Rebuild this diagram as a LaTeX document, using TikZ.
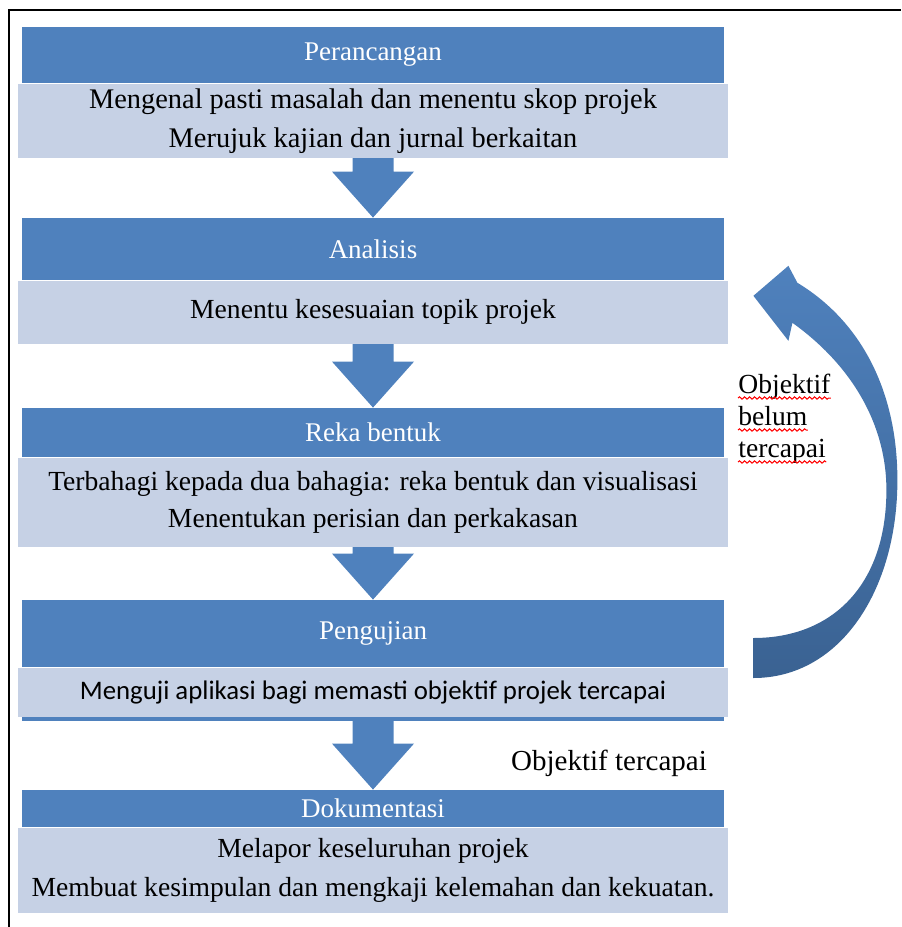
\documentclass[tikz,border=0pt]{standalone}
\usepackage{fontspec}
\setmainfont{Liberation Serif}
\newfontfamily\calibri{Carlito}
\usepackage{tikz}
\usetikzlibrary{positioning,calc,decorations.pathmorphing}
\definecolor{stageBlue}{HTML}{4F81BD}
\definecolor{stageLight}{HTML}{C6D1E5}
\definecolor{loopDark}{HTML}{3A6292}

\begin{document}
\begin{tikzpicture}[
  x=0.5pt,
  y=-0.5pt,
  stage head/.style={
    fill=stageBlue,
    text=white,
    minimum width=351pt,
    inner sep=0pt,
    font=\fontsize{13.5}{16}\selectfont,
  },
  stage body/.style={
    fill=stageLight,
    minimum width=355pt,
    inner sep=0pt,
    align=center,
    font=\fontsize{13.8}{19.5}\selectfont,
  },
  flow arrow/.style={
    fill=stageBlue,
  },
  side note/.style={
    inner sep=0pt,
    font=\fontsize{13.8}{15.5}\selectfont,
  },
  spell mark/.style={
    draw=red,
    line width=0.5pt,
    decorate,
    decoration={snake,amplitude=0.6pt,segment length=2.5pt},
  },
]
\useasboundingbox (0,0) rectangle (901,927);
\draw[line width=1pt] (9,927) -- (9,10) -- (901,10);

\node[stage head,minimum height=28pt] (h1) at (373,55) {Perancangan};
\node[stage body,minimum height=37pt,below=0pt of h1,font=\fontsize{14.2}{19.5}\selectfont] (b1)
  {Mengenal pasti masalah dan menentu skop projek\\Merujuk kajian dan jurnal berkaitan};

\node[stage head,minimum height=31pt] (h2) at (373,249) {Analisis};
\node[stage body,minimum height=31.5pt,below=0pt of h2] (b2)
  {Menentu kesesuaian topik projek};

\node[stage head,minimum height=24.5pt] (h3) at (373,432.5) {Reka bentuk};
\node[stage body,minimum height=44.5pt,below=0pt of h3,font=\fontsize{13.8}{18.5}\selectfont] (b3)
  {Terbahagi kepada dua bahagia: reka bentuk dan visualisasi\\Menentukan perisian dan perkakasan};

\node[stage head,minimum height=33.5pt] (h4) at (373,633.5) {Pengujian};
\node[stage body,minimum height=24.5pt,below=0pt of h4,font=\calibri\fontsize{13.4}{16}\selectfont] (b4)
  {Menguji aplikasi bagi memasti objektif projek tercapai};
\fill[stageBlue] ($(b4.south west)+(4,0)$) rectangle ($(b4.south east)+(-4,4)$);

\node[stage head,minimum height=18.5pt] (h5) at (373,808.5) {Dokumentasi};
\node[stage body,minimum height=42.5pt,below=0pt of h5] (b5)
  {Melapor keseluruhan projek\\Membuat kesimpulan dan mengkaji kelemahan dan kekuatan.};

\foreach \from/\to in {b1/h2,b2/h3,b3/h4,b4/h5}
  \fill[flow arrow] let \p1=(\from.south), \p2=(\to.north) in
    (\x1-10.25pt,\y1) -- (\x1+10.25pt,\y1) -- (\x1+10.25pt,\y2+23pt)
    -- (\x1+20.5pt,\y2+23pt) -- (\x1,\y2) -- (\x1-20.5pt,\y2+23pt)
    -- (\x1-10.25pt,\y2+23pt) -- cycle;

\node[font=\fontsize{14.5}{17}\selectfont] (reached) at (609,763) {Objektif tercapai};

\coordinate (back) at ($(h4.east)+(29,24.5)$);
\coordinate (tip) at ($(b2.east)+(25,-16.5)$);
\shade[top color=stageBlue,middle color=stageBlue,bottom color=loopDark]
  ($(back)+(0,20)$)
  .. controls ($(back)+(87,20)$) and ($(back)+(144,-68)$) .. ($(back)+(144,-178)$)
  .. controls ($(back)+(144,-268)$) and ($(tip)+(107,25)$) .. ($(tip)+(44,-13)$)
  -- ($(tip)+(35,-30)$) -- (tip) -- ($(tip)+(35,45)$) -- ($(tip)+(39,27)$)
  .. controls ($(tip)+(99,70)$) and ($(back)+(133,-233)$) .. ($(back)+(133,-168)$)
  .. controls ($(back)+(133,-73)$) and ($(back)+(79,-20)$) .. ($(back)+(0,-20)$)
  -- cycle;

\node[side note,anchor=base west] (ob1) at (738,393) {Objektif};
\node[side note,anchor=base west] (ob2) at (738,425) {belum};
\node[side note,anchor=base west] (ob3) at (738,457) {tercapai};
\foreach \w in {ob1,ob2,ob3}
  \draw[spell mark] ($(\w.base west)+(0,5)$) -- ($(\w.base east)+(0,5)$);
\end{tikzpicture}
\end{document}
